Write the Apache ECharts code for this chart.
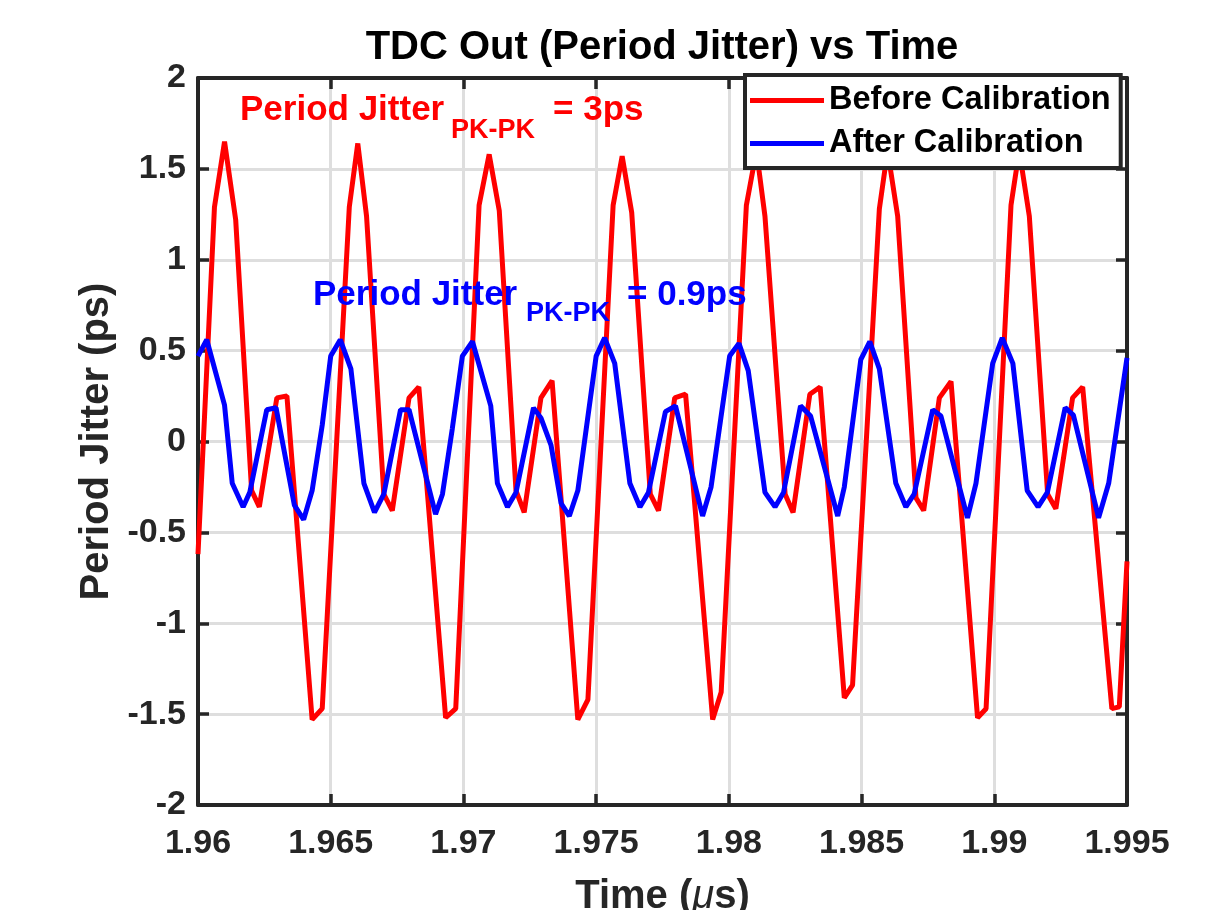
<!DOCTYPE html>
<html>
<head>
<meta charset="utf-8">
<title>TDC Out (Period Jitter) vs Time</title>
<script src="https://cdn.jsdelivr.net/npm/echarts@6/dist/echarts.min.js"></script>
<style>
	html, body { margin: 0; padding: 0; background: #fff; }
	#chart { width: 1211px; height: 910px; }
</style>
</head>
<body>
<div id="chart"></div>
<script>
var FONT = '"Liberation Sans", Arial, Helvetica, sans-serif';
var AXIS_COLOR = '#262626';

// tick labels
var xTickLabels = ['1.96', '1.965', '1.97', '1.975', '1.98', '1.985', '1.99', '1.995'];
var yTickLabels = ['-2', '-1.5', '-1', '-0.5', '0', '0.5', '1', '1.5', '2'];

// Before Calibration (red), time in us / jitter in ps
var redTime = [
	1.96000, 1.96062, 1.96100, 1.96142, 1.96202, 1.96231, 1.96297, 1.96335, 1.96430, 1.96468,
	1.96570, 1.96602, 1.96635, 1.96700, 1.96732, 1.96795, 1.96832, 1.96933, 1.96971,
	1.97059, 1.97097, 1.97135, 1.97198, 1.97229, 1.97292, 1.97334, 1.97431, 1.97469,
	1.97564, 1.97598, 1.97634, 1.97704, 1.97735, 1.97796, 1.97837, 1.97939, 1.97971,
	1.98066, 1.98104, 1.98136, 1.98212, 1.98242, 1.98305, 1.98344, 1.98435, 1.98466,
	1.98567, 1.98598, 1.98636, 1.98705, 1.98734, 1.98793, 1.98837, 1.98937, 1.98969,
	1.99063, 1.99094, 1.99132, 1.99201, 1.99232, 1.99295, 1.99333, 1.99443, 1.99471,
	1.99500
];
var redJitter = [
	-0.62, 1.29, 1.65, 1.22, -0.27, -0.36, 0.24, 0.25, -1.53, -1.47,
	1.29, 1.64, 1.24, -0.29, -0.38, 0.24, 0.30, -1.52, -1.47,
	1.30, 1.58, 1.27, -0.27, -0.39, 0.24, 0.335, -1.53, -1.42,
	1.30, 1.57, 1.26, -0.29, -0.38, 0.24, 0.26, -1.53, -1.38,
	1.30, 1.60, 1.24, -0.29, -0.39, 0.26, 0.30, -1.41, -1.34,
	1.28, 1.60, 1.24, -0.31, -0.38, 0.24, 0.33, -1.52, -1.47,
	1.30, 1.60, 1.24, -0.29, -0.37, 0.24, 0.30, -1.47, -1.46,
	-0.66
];

// After Calibration (blue)
var blueTime = [
	1.96000, 1.96033, 1.96100, 1.96129, 1.96170, 1.96195, 1.96259, 1.96294, 1.96363, 1.96398,
	1.96430, 1.96468, 1.96500, 1.96536, 1.96576, 1.96625, 1.96665, 1.96700, 1.96763, 1.96795,
	1.96895, 1.96921, 1.96958, 1.96996, 1.97034, 1.97103, 1.97128, 1.97166, 1.97198, 1.97264,
	1.97292, 1.97330, 1.97368, 1.97399, 1.97431, 1.97500, 1.97532, 1.97570, 1.97627, 1.97665,
	1.97697, 1.97761, 1.97799, 1.97901, 1.97933, 1.98003, 1.98038, 1.98073, 1.98136, 1.98174,
	1.98206, 1.98270, 1.98308, 1.98410, 1.98435, 1.98497, 1.98531, 1.98567, 1.98629, 1.98667,
	1.98698, 1.98768, 1.98799, 1.98899, 1.98931, 1.98994, 1.99030, 1.99070, 1.99124, 1.99165,
	1.99200, 1.99267, 1.99298, 1.99393, 1.99431, 1.99500
];
var blueJitter = [
	0.47, 0.56, 0.20, -0.23, -0.36, -0.28, 0.175, 0.186, -0.35, -0.43,
	-0.27, 0.09, 0.47, 0.56, 0.40, -0.23, -0.39, -0.29, 0.175, 0.175,
	-0.40, -0.29, 0.07, 0.47, 0.55, 0.196, -0.23, -0.36, -0.28, 0.185,
	0.13, -0.02, -0.34, -0.41, -0.27, 0.47, 0.57, 0.43, -0.23, -0.36,
	-0.28, 0.164, 0.196, -0.41, -0.25, 0.47, 0.54, 0.39, -0.28, -0.36,
	-0.28, 0.196, 0.14, -0.41, -0.25, 0.45, 0.55, 0.40, -0.23, -0.36,
	-0.29, 0.175, 0.14, -0.42, -0.23, 0.43, 0.57, 0.43, -0.27, -0.36,
	-0.28, 0.186, 0.145, -0.42, -0.23, 0.46
];

function pairs(xs, ys){
	var out = [];
	for(var i=0;i<xs.length;i++){
		out.push([xs[i], ys[i]]);
	}
	return out;
}

function boxAxis(extra){
	var a = {
		axisLine: { show: true, onZero: false, lineStyle: { color: AXIS_COLOR, width: 4 } },
		axisTick: { show: true, inside: true, length: 11, lineStyle: { color: AXIS_COLOR, width: 3.5 } },
		splitLine: { show: false },
		axisLabel: { show: false }
	};
	for(var k in extra){ a[k] = extra[k]; }
	return a;
}

var chart = echarts.init(document.getElementById('chart'));

chart.setOption({
	animation: false,
	backgroundColor: '#ffffff',
	title: {
		text: 'TDC Out (Period Jitter) vs Time',
		left: 662,
		top: 28,
		padding: 0,
		textAlign: 'center',
		textStyle: { fontFamily: FONT, fontSize: 40, fontWeight: 'bold', color: '#000' }
	},
	// fixed plot box, names may run off the bottom like in the picture
	grid: { left: 198, right: 84, top: 78, bottom: 105, outerBoundsMode: 'none', containLabel: false },
	legend: {
		data: ['Before Calibration', 'After Calibration'],
		orient: 'vertical',
		left: 745,
		top: 75,
		icon: 'rect',
		itemWidth: 74,
		itemHeight: 5,
		itemGap: 10,
		padding: [9, 10, 8, 5],
		backgroundColor: 'rgb(255,255,255)',
		borderColor: AXIS_COLOR,
		borderWidth: 4,
		borderRadius: 0,
		selectedMode: false,
		textStyle: { fontFamily: FONT, fontSize: 32.5, fontWeight: 'bold', color: '#000' },
		// own layer so the white box hides the red peaks under it
		zlevel: 1,
		z: 10
	},
	xAxis: [
		boxAxis({
			type: 'value',
			position: 'bottom',
			min: 1.96,
			max: 1.995,
			interval: 0.005,
			name: 'Time ({m|μ}s)',
			nameLocation: 'middle',
			nameGap: 72,
			nameTextStyle: {
				fontFamily: FONT, fontSize: 40, fontWeight: 'bold', color: AXIS_COLOR,
				rich: { m: { fontFamily: FONT, fontSize: 40, fontStyle: 'italic', fontWeight: 'normal', color: AXIS_COLOR } }
			},
			axisLabel: {
				show: true,
				margin: 22,
				fontFamily: FONT, fontSize: 34, fontWeight: 'bold', color: AXIS_COLOR,
				formatter: function(v, i){ return xTickLabels[i]; }
			},
			splitLine: { show: true, lineStyle: { color: '#dedede', width: 3 } }
		}),
		boxAxis({ type: 'value', position: 'top', min: 1.96, max: 1.995, interval: 0.005 })
	],
	yAxis: [
		boxAxis({
			type: 'value',
			position: 'left',
			min: -2,
			max: 2,
			interval: 0.5,
			name: 'Period Jitter (ps)',
			nameLocation: 'middle',
			nameGap: 80,
			nameTextStyle: { fontFamily: FONT, fontSize: 40, fontWeight: 'bold', color: AXIS_COLOR },
			axisLabel: {
				show: true,
				margin: 12,
				fontFamily: FONT, fontSize: 34, fontWeight: 'bold', color: AXIS_COLOR,
				formatter: function(v, i){ return yTickLabels[i]; }
			},
			splitLine: { show: true, lineStyle: { color: '#dedede', width: 3 } }
		}),
		boxAxis({ type: 'value', position: 'right', min: -2, max: 2, interval: 0.5 })
	],
	series: [
		{
			name: 'Before Calibration',
			type: 'line',
			data: pairs(redTime, redJitter),
			showSymbol: false,
			clip: true,
			color: '#ff0000',
			lineStyle: { color: '#ff0000', width: 5 },
			emphasis: { disabled: true },
			z: 2
		},
		{
			name: 'After Calibration',
			type: 'line',
			data: pairs(blueTime, blueJitter),
			showSymbol: false,
			clip: true,
			color: '#0000ff',
			lineStyle: { color: '#0000ff', width: 5 },
			emphasis: { disabled: true },
			z: 3
		}
	],
	graphic: [
		// red annotation
		{ type: 'text', x: 240, y: 110, z: 20, style: { text: 'Period Jitter', fill: '#ff0000', font: 'bold 35px ' + FONT, verticalAlign: 'middle' } },
		{ type: 'text', x: 451, y: 131, z: 20, style: { text: 'PK-PK', fill: '#ff0000', font: 'bold 27px ' + FONT, verticalAlign: 'middle' } },
		{ type: 'text', x: 553, y: 110, z: 20, style: { text: '= 3ps', fill: '#ff0000', font: 'bold 35px ' + FONT, verticalAlign: 'middle' } },
		// blue annotation
		{ type: 'text', x: 313, y: 295, z: 20, style: { text: 'Period Jitter', fill: '#0000ff', font: 'bold 35px ' + FONT, verticalAlign: 'middle' } },
		{ type: 'text', x: 526, y: 314, z: 20, style: { text: 'PK-PK', fill: '#0000ff', font: 'bold 27px ' + FONT, verticalAlign: 'middle' } },
		{ type: 'text', x: 627, y: 295, z: 20, style: { text: '= 0.9ps', fill: '#0000ff', font: 'bold 35px ' + FONT, verticalAlign: 'middle' } }
	]
});
</script>
</body>
</html>
